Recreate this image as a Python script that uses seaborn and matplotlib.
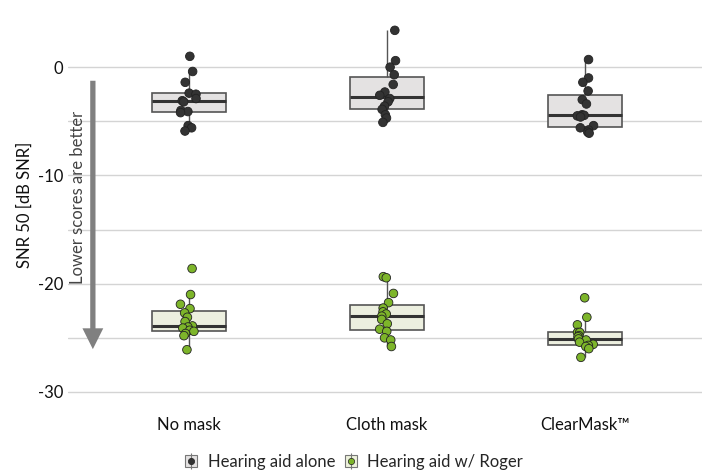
import numpy as np
import pandas as pd
import matplotlib
matplotlib.use("Agg")
import matplotlib.pyplot as plt
import seaborn as sns
from matplotlib.lines import Line2D
from matplotlib.legend_handler import HandlerTuple
from matplotlib.patches import FancyArrowPatch

masks = ["No mask", "Cloth mask", "ClearMask™"]
groups = ["Hearing aid alone", "Hearing aid w/ Roger"]

# SNR 50 values (dB SNR)
nomask_alone = [1.0, -0.4, -1.4, -2.4, -2.5, -2.9, -3.1, -3.2, -4.0, -4.1, -4.2, -5.4, -5.6, -5.9]
cloth_alone = [3.4, 0.6, 0.0, -0.7, -1.6, -2.3, -2.6, -2.9, -3.2, -3.6, -3.9, -4.4, -4.7, -5.1]
clear_alone = [0.7, -1.0, -1.4, -2.2, -3.0, -3.4, -4.4, -4.45, -4.5, -4.6, -5.4, -5.6, -5.8, -6.0, -6.1]
nomask_roger = [-18.6, -21.0, -21.9, -22.3, -22.7, -23.1, -23.5, -23.9, -24.0, -24.1, -24.3, -24.4, -24.6, -24.8, -26.1]
cloth_roger = [-19.35, -19.45, -20.9, -21.75, -22.25, -22.6, -22.8, -23.0, -23.3, -23.7, -24.2, -24.4, -25.0, -25.2, -25.8]
clear_roger = [-21.3, -23.1, -23.8, -24.5, -24.5, -24.8, -24.9, -25.1, -25.2, -25.4, -25.6, -25.7, -25.8, -26.0, -26.8]

rows = []
for m, a, r in zip(masks, [nomask_alone, cloth_alone, clear_alone], [nomask_roger, cloth_roger, clear_roger]):
    rows += [(m, groups[0], v) for v in a]
    rows += [(m, groups[1], v) for v in r]
df = pd.DataFrame(rows, columns=["mask", "group", "snr"])

box_fill = {groups[0]: "#e4e2e2", groups[1]: "#eef2dc"}
dot_col = {groups[0]: "#333333", groups[1]: "#7db52a"}

sns.set_style("white")
plt.rcParams["font.family"] = ["Lato", "DejaVu Sans"]

fig = plt.figure(figsize=(7.02, 4.75), dpi=100)
ax = fig.add_axes([0.097, 0.152, 0.903, 0.832])

sns.boxplot(data=df, x="mask", y="snr", hue="group", order=masks, hue_order=groups,
            palette=box_fill, dodge=False, width=0.375, showfliers=False, whis=1.5,
            showcaps=False, linecolor="#555555", linewidth=1.2,
            whiskerprops=dict(color="#555555", linewidth=1.0),
            medianprops=dict(color="#333333", linewidth=2.2),
            legend=False, ax=ax, zorder=2)

np.random.seed(3)
sns.stripplot(data=df, x="mask", y="snr", hue="group", order=masks, hue_order=groups,
              palette=dot_col, dodge=False, jitter=0.045, size=6.2,
              edgecolor="#222222", linewidth=0.6, legend=False, ax=ax, zorder=3)

ax.set_xlim(-0.61, 2.59)
ax.set_ylim(-31, 5.5)
ax.set_yticks([-30, -20, -10, 0])
ax.set_yticklabels(["-30", "-20", "-10", "0"])
ax.set_yticks([-25, -15, -5], minor=True)
ax.grid(axis="y", which="both", color="#d4d4d4", linewidth=1)
ax.set_axisbelow(True)
for s in ax.spines.values():
    s.set_visible(False)
ax.tick_params(axis="both", which="both", length=0, labelsize=12, colors="#111111")
ax.tick_params(axis="x", pad=10)
ax.set_xlabel("")
ax.set_ylabel("SNR 50 [dB SNR]", fontsize=12, color="#111111", labelpad=4)

# "lower is better" arrow
arr = FancyArrowPatch((-0.485, -1.0), (-0.485, -26.3),
                      arrowstyle="simple,head_length=1.5,head_width=1.5,tail_width=0.38",
                      mutation_scale=10, color="#808080", lw=0, zorder=1)
ax.add_patch(arr)
ax.text(-0.56, -12.0, "Lower scores are better", rotation=90, ha="center", va="center",
        fontsize=12, color="#444444")

handles = []
for g in groups:
    sq = Line2D([], [], marker="s", linestyle="none", markersize=9,
                markerfacecolor=box_fill[g], markeredgecolor="#777777", markeredgewidth=0.8)
    vl = Line2D([], [], marker="|", linestyle="none", markersize=11,
                markeredgecolor="#777777", markeredgewidth=0.8)
    dt = Line2D([], [], marker="o", linestyle="none", markersize=4.5,
                markerfacecolor=dot_col[g], markeredgecolor="#222222", markeredgewidth=0.5)
    handles.append((sq, vl, dt))
fig.legend(handles, groups, handler_map={tuple: HandlerTuple(ndivide=1)},
           loc="center", bbox_to_anchor=(0.503, 0.028), ncol=2, frameon=False,
           fontsize=12, handlelength=1.0, handletextpad=0.5, columnspacing=0.4)

fig.savefig("out.png", dpi=100)
